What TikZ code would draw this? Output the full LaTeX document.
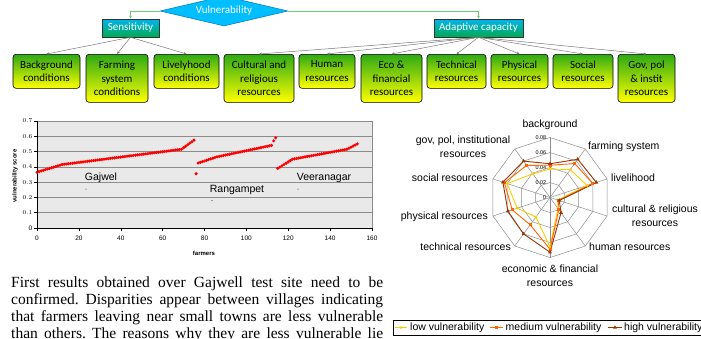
\documentclass[tikz,border=0pt]{standalone}
\usepackage{fontspec}
\setmainfont{Liberation Serif}
\newfontfamily\boxfont{Carlito}
\newfontfamily\chartfont{Liberation Sans}
\usetikzlibrary{arrows.meta,shapes.geometric}

\definecolor{diamondblue}{RGB}{0,190,255}
\definecolor{diamondedge}{RGB}{0,120,190}
\definecolor{leafgreen}{RGB}{45,170,20}
\definecolor{leafyellow}{RGB}{255,255,0}
\definecolor{branchcyan}{RGB}{0,180,240}
\definecolor{branchgreen}{RGB}{0,170,80}
\definecolor{linkgreen}{RGB}{110,205,110}
\definecolor{linkgray}{RGB}{120,120,120}
\definecolor{plotbg}{RGB}{233,233,233}
\definecolor{gridgray}{RGB}{140,140,140}
\definecolor{dotred}{RGB}{255,0,0}
\definecolor{lowc}{RGB}{255,204,0}
\definecolor{medc}{RGB}{255,102,0}
\definecolor{highc}{RGB}{153,51,0}

\newcommand\radarseries[2]{% name, values
  \foreach[count=\k from 0] \v in {#2}
    \coordinate (#1\k) at ({550+750*\v*sin(36*\k)},{197.5-750*\v*cos(36*\k)});
}

\begin{document}
\begin{tikzpicture}[x=1pt,y=-1pt,
  vuln/.style={diamond, aspect=4.27, inner sep=0pt, minimum width=128pt,
    minimum height=30pt, fill=diamondblue, draw=diamondedge, line width=0.5pt,
    text=white, font=\boxfont\fontsize{11}{13}\selectfont},
  branch/.style={draw=black!80, line width=0.6pt, top color=branchcyan,
    bottom color=branchgreen, minimum height=18pt, inner sep=0pt,
    text=white, font=\boxfont\fontsize{11}{13}\selectfont},
  leaf/.style={draw=black, line width=0.6pt, rounded corners=3pt, anchor=north,
    top color=leafgreen, bottom color=leafyellow, inner sep=0pt, align=center,
    font=\boxfont\fontsize{11}{13.6}\selectfont},
  toplink/.style={draw=linkgreen, line width=0.6pt, -{Stealth[length=3pt,width=3pt]}},
  sublink/.style={draw=linkgray, line width=0.5pt, -{Stealth[length=3pt,width=2.5pt]}},
  axislbl/.style={font=\chartfont\fontsize{6.5}{7}\selectfont, inner sep=0pt},
  axistitle/.style={font=\chartfont\bfseries\fontsize{6}{7}\selectfont, inner sep=0pt},
  sitelbl/.style={font=\chartfont\fontsize{10.5}{12}\selectfont, inner sep=0pt},
  radarlbl/.style={font=\chartfont\fontsize{10.5}{14}\selectfont, inner sep=0pt, align=center},
  radartick/.style={font=\chartfont\fontsize{5.5}{6}\selectfont, inner sep=0pt, anchor=east},
  radargrid/.style={draw=gridgray, line width=0.5pt},
  lowline/.style={draw=lowc, line width=0.9pt},
  medline/.style={draw=medc, line width=0.9pt},
  highline/.style={draw=highc, line width=0.9pt},
  lowmark/.style={circle, fill=lowc, inner sep=0pt, minimum size=3pt},
  medmark/.style={rectangle, fill=medc, inner sep=0pt, minimum size=3pt},
  highmark/.style={regular polygon, regular polygon sides=3, fill=highc, inner sep=0pt, minimum size=4.5pt},
]
\useasboundingbox (0,0) rectangle (701,338);
\clip (0,0) rectangle (701,338);

% ---------- indicator hierarchy ----------
\node[vuln] (vul) at (224,11) {Vulnerability};
\node[branch, minimum width=57pt] (sens) at (130.5,28) {Sensitivity};
\node[branch, minimum width=89pt] (adapt) at (478.5,28) {Adaptive capacity};
\draw[toplink] (vul.west) -| (sens.north);
\draw[toplink] (vul.east) -| (adapt.north);

\node[leaf, minimum width=67pt, minimum height=34pt] (bg) at (46.5,54) {Background\\conditions};
\node[leaf, minimum width=62pt, minimum height=48pt] (farm) at (117,54) {Farming\\system\\conditions};
\node[leaf, minimum width=65pt, minimum height=34pt] (live) at (186.5,54) {Livelyhood\\conditions};
\node[leaf, minimum width=70pt, minimum height=48pt] (cult) at (259,54) {Cultural and\\religious\\resources};
\node[leaf, minimum width=56pt, minimum height=34pt] (human) at (327,54) {Human\\resources};
\node[leaf, minimum width=61pt, minimum height=48pt] (eco) at (391.5,54) {Eco \&\\financial\\resources};
\node[leaf, minimum width=59pt, minimum height=34pt] (tech) at (456.5,54) {Technical\\resources};
\node[leaf, minimum width=57pt, minimum height=34pt] (phys) at (519.5,54) {Physical\\resources};
\node[leaf, minimum width=60pt, minimum height=34pt] (soc) at (583,54) {Social\\resources};
\node[leaf, minimum width=57pt, minimum height=48pt] (gov) at (646.5,54) {Gov, pol\\\& instit\\resources};

\foreach \t in {bg,farm,live} \draw[sublink] (sens.south) -- (\t.north);
\foreach \t in {cult,human,eco,tech,phys,soc,gov} \draw[sublink] (adapt.south) -- (\t.north);

% ---------- scatter chart of vulnerability scores ----------
\fill[plotbg] (37,121) rectangle (372,228);
\foreach \k in {1,...,7} \draw[gridgray, line width=0.5pt] (37,{228-15.286*\k}) -- (372,{228-15.286*\k});
\draw[gridgray, line width=0.6pt] (372,121) -- (372,228);
\draw[black, line width=0.5pt] (37,121) -- (37,228) -- (372,228);
\foreach \k in {0,...,7} {
  \draw[black, line width=0.5pt] (34,{228-15.286*\k}) -- (37,{228-15.286*\k});
  \node[axislbl, anchor=east] at (32.5,{228-15.286*\k}) {\pgfmathparse{\k/10}\ifnum\k=0 0\else\pgfmathprintnumber[fixed,precision=1]{\pgfmathresult}\fi};
}
\foreach \k in {0,...,8} {
  \pgfmathtruncatemacro\xv{20*\k}
  \draw[black, line width=0.5pt] ({37+41.875*\k},228) -- ({37+41.875*\k},231);
  \node[axislbl, anchor=center] at ({37+41.875*\k},238) {\xv};
}
\node[axistitle, rotate=90] at (15,176) {vulnerability score};
\node[axistitle] at (204,253) {farmers};

% farmers sorted by score, village by village
\foreach \i in {0,...,12}   \fill[dotred] ({37+2.09375*\i},{228-152.86*(0.365+0.05*\i/12)}) circle (1.7);
\foreach \i in {13,...,69}  \fill[dotred] ({37+2.09375*\i},{228-152.86*(0.415+0.1*(\i-12)/57)}) circle (1.7);
\foreach \i in {70,...,75}  \fill[dotred] ({37+2.09375*\i},{228-152.86*(0.515+0.01*(\i-69))}) circle (1.7);
\fill[dotred] ({37+2.09375*76},{228-152.86*0.355}) circle (1.7);
\foreach \i in {77,...,86}  \fill[dotred] ({37+2.09375*\i},{228-152.86*(0.425+0.0045*(\i-77))}) circle (1.7);
\foreach \i in {87,...,112} \fill[dotred] ({37+2.09375*\i},{228-152.86*(0.4655+0.075*(\i-86)/26)}) circle (1.7);
\fill[dotred] ({37+2.09375*113},{228-152.86*0.57}) circle (1.7);
\fill[dotred] ({37+2.09375*114},{228-152.86*0.59}) circle (1.7);
\foreach \i in {115,...,122} \fill[dotred] ({37+2.09375*\i},{228-152.86*(0.39+0.06*(\i-115)/7)}) circle (1.7);
\foreach \i in {123,...,148} \fill[dotred] ({37+2.09375*\i},{228-152.86*(0.45+0.065*(\i-122)/26)}) circle (1.7);
\foreach \i in {149,...,153} \fill[dotred] ({37+2.09375*\i},{228-152.86*(0.515+0.035*(\i-148)/5)}) circle (1.7);

\node[sitelbl] (gaj) at (101,178) {Gajwel};
\node[sitelbl] (ran) at (237,190) {Rangampet};
\node[sitelbl] (vee) at (324,178) {Veeranagar};
\fill[black] (86,189) circle (0.5);
\fill[black] (212,200.5) circle (0.5);
\fill[black] (298,189) circle (0.5);

% ---------- radar chart of indicator weights ----------
\foreach \r in {15,30,45,60}
  \draw[radargrid] (550,{197.5-\r}) \foreach \k in {1,...,9} { -- ({550+\r*sin(36*\k)},{197.5-\r*cos(36*\k)}) } -- cycle;
\foreach \k in {0,...,9}
  \draw[radargrid] (550,197.5) -- ({550+60*sin(36*\k)},{197.5-60*cos(36*\k)});
\node[radartick] at (546.5,137.5) {0.08};
\node[radartick] at (546.5,152.5) {0.06};
\node[radartick] at (546.5,167.5) {0.04};
\node[radartick] at (546.5,182.5) {0.02};
\node[radartick] at (546.5,197.5) {0};

\radarseries{lo}{0.038,0.046,0.052,0.011,0.018,0.066,0.032,0.046,0.060,0.039}
\radarseries{me}{0.043,0.056,0.060,0.012,0.020,0.069,0.045,0.053,0.064,0.053}
\radarseries{hi}{0.045,0.063,0.065,0.013,0.025,0.073,0.060,0.059,0.066,0.060}
\draw[lowline] (lo0) -- (lo1) -- (lo2) -- (lo3) -- (lo4) -- (lo5) -- (lo6) -- (lo7) -- (lo8) -- (lo9) -- cycle;
\draw[medline] (me0) -- (me1) -- (me2) -- (me3) -- (me4) -- (me5) -- (me6) -- (me7) -- (me8) -- (me9) -- cycle;
\draw[highline] (hi0) -- (hi1) -- (hi2) -- (hi3) -- (hi4) -- (hi5) -- (hi6) -- (hi7) -- (hi8) -- (hi9) -- cycle;
\foreach \k in {0,...,9} {
  \node[lowmark] at (lo\k) {};
  \node[medmark] at (me\k) {};
  \node[highmark] at (hi\k) {};
}

\node[radarlbl] at (550,125) {background};
\node[radarlbl, anchor=west] at (588,147) {farming system};
\node[radarlbl, anchor=west] at (611,178) {livelihood};
\node[radarlbl] at (655,216) {cultural \& religious\\resources};
\node[radarlbl, anchor=west] at (589,247) {human resources};
\node[radarlbl] at (550,276) {economic \& financial\\resources};
\node[radarlbl, anchor=east] at (511,247) {technical resources};
\node[radarlbl, anchor=east] at (488,217) {physical resources};
\node[radarlbl, anchor=east] at (488,178) {social resources};
\node[radarlbl] at (463,147) {gov, pol, institutional\\resources};

% legend
\draw[black, line width=0.6pt] (393,320) rectangle (712,335);
\draw[lowline] (395,327.5) -- (407,327.5);
\node[lowmark] at (401,327.5) {};
\node[radarlbl, anchor=west] at (410,327.5) {low vulnerability};
\draw[medline] (490,327.5) -- (503,327.5);
\node[medmark] at (496.5,327.5) {};
\node[radarlbl, anchor=west] at (505.5,327.5) {medium vulnerability};
\draw[highline] (608,327.5) -- (622,327.5);
\node[highmark] at (615,327.5) {};
\node[radarlbl, anchor=west] at (624,327.5) {high vulnerability};

% ---------- body text ----------
\node[anchor=north west, inner sep=0pt, text width=372pt, align=justify,
  font=\fontsize{15.5}{16.8}\selectfont] (body) at (11,277)
  {\hyphenpenalty=10000\parfillskip=0pt\frenchspacing
   First results obtained over Gajwell test site need to be\linebreak
   confirmed. Disparities appear between villages indicating\linebreak
   that farmers leaving near small towns are less vulnerable\linebreak
   than others. The reasons why they are less vulnerable lie\par};
\end{tikzpicture}
\end{document}
